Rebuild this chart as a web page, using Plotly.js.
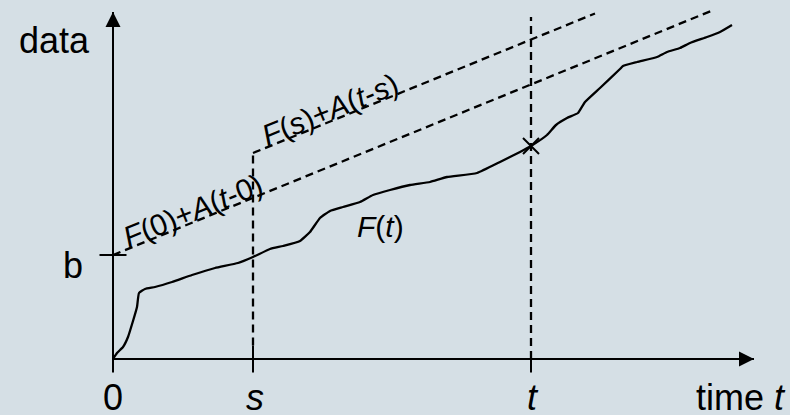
<!DOCTYPE html>
<html>
<head>
<meta charset="utf-8">
<script src="https://cdn.plot.ly/plotly-3.0.1.min.js"></script>
<style>
  html, body { margin: 0; padding: 0; background: #d5dfe5; }
  #chart { width: 790px; height: 415px; }
</style>
</head>
<body>
<div id="chart"></div>
<script>
// Cumulative data curve F(t) against time
const timeVals = [0.0, 0.4, 1.0, 1.5, 2.0, 2.4, 2.6, 3.2, 4.2, 5.9, 7.9, 10.2, 12.5, 14.0,
  15.7, 17.0, 18.7, 19.7, 20.7, 21.7, 23.0, 24.7, 26.0, 27.7, 29.7, 31.7, 33.4, 36.4,
  38.7, 40.7, 41.8, 43.4, 44.3, 45.4, 46.5, 47.2, 48.7, 50.7, 51.0, 52.4, 54.4, 55.4,
  56.7, 57.7, 59.4, 60.7, 61.9];
const dataVals = [0.0, 0.6, 1.2, 2.2, 3.8, 5.2, 6.6, 7.0, 7.2, 7.7, 8.4, 9.1, 9.6, 10.2,
  11.0, 11.3, 11.8, 12.7, 14.1, 14.8, 15.2, 15.7, 16.4, 16.9, 17.4, 17.7, 18.2, 18.6,
  19.7, 20.7, 21.3, 22.4, 23.4, 24.1, 24.6, 25.7, 27.1, 29.0, 29.3, 29.7, 30.2, 30.7,
  31.1, 31.6, 32.2, 32.7, 33.4];

// Marked instants and bound parameters
const sTime = 14.0;
const tTime = 41.8;
const bOffset = 10.4;
const rateA = 0.408;
const boundEnd0 = 60.1;   // where F(0)+A(t-0) stops
const boundEndS = 48.2;   // where F(s)+A(t-s) stops
const axisTopY = 34.7;
const axisRightX = 64.1;
const tLineTop = 34.2;

// Tick labels
const tickVals = [0, sTime, tTime];
const tickText = ['0', '<i>s</i>', '<i>t</i>'];

const F0 = dataVals[timeVals.indexOf(0)];
const Fs = dataVals[timeVals.indexOf(sTime)];
const Ft = dataVals[timeVals.indexOf(tTime)];

// Plot geometry
const W = 790, H = 415;
const xRange = [-11.3, 67.7];
const yRange = [-5.6, 35.9];
const pxX = W / (xRange[1] - xRange[0]);
const pxY = H / (yRange[1] - yRange[0]);
const slopeDeg = Math.atan(rateA * pxY / pxX) * 180 / Math.PI;

const ink = '#000000';
const fontFam = '"Liberation Sans", Arial, Helvetica, sans-serif';
const tickHalf = 1.35;
const dashStyle = '8px,5px';

function seg(xs, ys, dash, width) {
  return { type: 'scatter', mode: 'lines', x: xs, y: ys, hoverinfo: 'skip',
    line: { color: ink, width: width || 2, dash: dash || 'solid' } };
}

const bound0 = (x) => F0 + bOffset + rateA * (x - 0);
const boundS = (x) => Fs + bOffset + rateA * (x - sTime);

const traces = [
  // axes
  seg([0, 0], [-tickHalf, axisTopY]),
  seg([0, axisRightX], [0, 0]),
  { type: 'scatter', mode: 'markers', x: [0], y: [axisTopY], hoverinfo: 'skip',
    marker: { symbol: 'arrow-up', size: 15, color: ink, line: { width: 0 } } },
  { type: 'scatter', mode: 'markers', x: [axisRightX], y: [0], hoverinfo: 'skip',
    marker: { symbol: 'arrow-right', size: 15, color: ink, line: { width: 0 } } },
  // ticks
  seg([-tickHalf, tickHalf], [bOffset, bOffset]),
  seg([sTime, sTime], [-tickHalf, tickHalf]),
  seg([tTime, tTime], [-tickHalf, 0]),
  // guides at s and t
  seg([sTime, sTime], [tickHalf, boundS(sTime)], dashStyle, 2.3),
  seg([tTime, tTime], [0, tLineTop], dashStyle, 2.3),
  // linear bounds
  seg([0, boundEnd0], [bound0(0), bound0(boundEnd0)], dashStyle, 2.3),
  seg([sTime, boundEndS], [boundS(sTime), boundS(boundEndS)], dashStyle, 2.3),
  // data curve
  { type: 'scatter', mode: 'lines', x: timeVals, y: dataVals, hoverinfo: 'skip',
    line: { color: ink, width: 2.3, shape: 'spline', smoothing: 0.4 } },
  // crossing at t
  { type: 'scatter', mode: 'markers', x: [tTime], y: [Ft], hoverinfo: 'skip',
    marker: { symbol: 'x-thin', size: 16, color: ink, line: { color: ink, width: 2 } } }
];

const labelFont = { family: fontFam, size: 36, color: ink };
const boundFont = { family: fontFam, size: 30, color: ink };
const annotations = [
  { x: -5.9, y: 31.9, text: 'data', font: labelFont },
  { x: -4.0, y: bOffset - 1.0, text: 'b', font: labelFont },
  { x: 67.5, y: -3.8, text: 'time <i>t</i>', font: labelFont, xanchor: 'right' },
  { x: 26.7, y: 13.3, text: '<i>F</i>(<i>t</i>)', font: { family: fontFam, size: 30, color: ink } },
  { x: 8.0, y: bound0(8.0) + 1.2, text: '<i>F</i>(0)+<i>A</i>(<i>t</i>-0)', textangle: -slopeDeg,
    font: boundFont },
  { x: sTime + 7.7, y: boundS(sTime + 7.7) + 1.2, text: '<i>F</i>(<i>s</i>)+<i>A</i>(<i>t</i>-<i>s</i>)', textangle: -slopeDeg,
    font: boundFont }
].concat(tickVals.map((v, i) => ({ x: v + (i ? 0.15 : 0), y: -3.8, text: tickText[i], font: labelFont })));

annotations.forEach(a => {
  a.xref = 'x'; a.yref = 'y'; a.showarrow = false;
  if (!a.xanchor) a.xanchor = 'center';
  a.yanchor = 'middle';
});

const layout = {
  width: W, height: H,
  margin: { l: 0, r: 0, t: 0, b: 0, pad: 0 },
  paper_bgcolor: '#d5dfe5', plot_bgcolor: '#d5dfe5',
  showlegend: false,
  xaxis: { range: xRange, visible: false, fixedrange: true },
  yaxis: { range: yRange, visible: false, fixedrange: true },
  annotations: annotations
};

Plotly.newPlot('chart', traces, layout, { staticPlot: true, displayModeBar: false });
</script>
</body>
</html>
